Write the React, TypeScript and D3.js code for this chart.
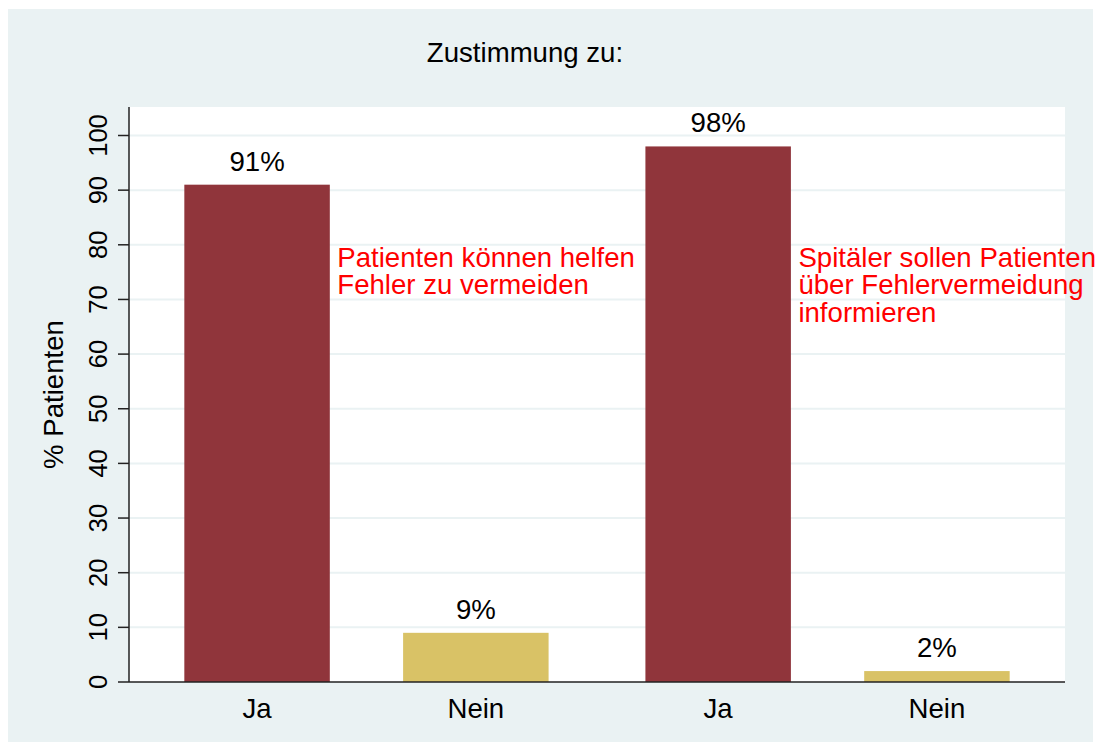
import { useEffect, useRef } from "react";
import * as d3 from "d3";

const title = "Zustimmung zu:";
const yTitle = "% Patienten";
const groups = ["helfen", "informieren"];
const answers = ["Ja", "Nein"];
const jaValues = [91, 98];
const neinValues = [9, 2];
const annotations = [
  ["Patienten können helfen", "Fehler zu vermeiden"],
  ["Spitäler sollen Patienten", "über Fehlervermeidung", "informieren"],
];
const yTicks = [0, 10, 20, 30, 40, 50, 60, 70, 80, 90, 100];

const colors: Record<string, string> = { Ja: "#90353b", Nein: "#d9c266" };

export default function App() {
  const svgRef = useRef<SVGSVGElement>(null);

  useEffect(() => {
    const width = 1100;
    const height = 742;
    const plot = { left: 129, right: 1065, top: 107, bottom: 682 };
    const font = "'Liberation Sans', Arial, Helvetica, sans-serif";
    const fs = 27.6;

    const svg = d3.select(svgRef.current);
    svg.selectAll("*").remove();
    svg.attr("width", width).attr("height", height);

    // outer background
    svg
      .append("rect")
      .attr("x", 8)
      .attr("y", 9)
      .attr("width", 1085)
      .attr("height", height - 9)
      .attr("fill", "#eaf2f3");

    // plot region
    svg
      .append("rect")
      .attr("x", plot.left)
      .attr("y", plot.top)
      .attr("width", plot.right - plot.left)
      .attr("height", plot.bottom - plot.top)
      .attr("fill", "#ffffff");

    const yScale = d3.scaleLinear().domain([0, 100]).range([plot.bottom, 135.5]);

    const xOuter = d3
      .scaleBand()
      .domain(groups)
      .range([plot.left, plot.right])
      .paddingInner(0.21)
      .paddingOuter(0.12);

    const xInner = d3
      .scaleBand()
      .domain(answers)
      .range([0, xOuter.bandwidth()])
      .paddingInner(0.335)
      .paddingOuter(0);

    // gridlines
    svg
      .append("g")
      .selectAll("line")
      .data(yTicks.filter(t => t > 0))
      .enter()
      .append("line")
      .attr("x1", plot.left)
      .attr("x2", plot.right)
      .attr("y1", d => yScale(d))
      .attr("y2", d => yScale(d))
      .attr("stroke", "#eaf2f3")
      .attr("stroke-width", 2);

    const rows = groups.flatMap((g, i) => [
      { group: g, answer: "Ja", value: jaValues[i] },
      { group: g, answer: "Nein", value: neinValues[i] },
    ]);

    const barX = (d: { group: string; answer: string }) =>
      (xOuter(d.group) as number) + (xInner(d.answer) as number);

    // bars
    svg
      .append("g")
      .selectAll("rect")
      .data(rows)
      .enter()
      .append("rect")
      .attr("x", d => barX(d))
      .attr("y", d => yScale(d.value))
      .attr("width", xInner.bandwidth())
      .attr("height", d => yScale(0) - yScale(d.value))
      .attr("fill", d => colors[d.answer]);

    // value labels
    svg
      .append("g")
      .selectAll("text")
      .data(rows)
      .enter()
      .append("text")
      .attr("x", d => barX(d) + xInner.bandwidth() / 2)
      .attr("y", d => yScale(d.value) - 14)
      .attr("text-anchor", "middle")
      .attr("font-family", font)
      .attr("font-size", fs)
      .attr("fill", "#000")
      .text(d => `${d.value}%`);

    // x category labels
    svg
      .append("g")
      .selectAll("text")
      .data(rows)
      .enter()
      .append("text")
      .attr("x", d => barX(d) + xInner.bandwidth() / 2)
      .attr("y", 718)
      .attr("text-anchor", "middle")
      .attr("font-family", font)
      .attr("font-size", fs)
      .attr("fill", "#000")
      .text(d => d.answer);

    // red annotations
    annotations.forEach((lines, i) => {
      const x = (xOuter(groups[i]) as number) + (xInner("Ja") as number) + xInner.bandwidth() + 7.5;
      const t = svg
        .append("text")
        .attr("x", x)
        .attr("y", yScale(76))
        .attr("font-family", font)
        .attr("font-size", fs)
        .attr("fill", "#ff0000");
      lines.forEach((line, j) => {
        t.append("tspan")
          .attr("x", x)
          .attr("dy", j === 0 ? 0 : 27.5)
          .text(line);
      });
    });

    // y axis
    svg
      .append("line")
      .attr("x1", plot.left)
      .attr("x2", plot.left)
      .attr("y1", plot.top)
      .attr("y2", plot.bottom)
      .attr("stroke", "#222")
      .attr("stroke-width", 1.5);

    const ticks = svg.append("g");
    ticks
      .selectAll("line")
      .data(yTicks)
      .enter()
      .append("line")
      .attr("x1", plot.left - 11)
      .attr("x2", plot.left)
      .attr("y1", d => yScale(d))
      .attr("y2", d => yScale(d))
      .attr("stroke", "#222")
      .attr("stroke-width", 1.5);

    ticks
      .selectAll("text")
      .data(yTicks)
      .enter()
      .append("text")
      .attr("transform", d => `translate(107, ${yScale(d)}) rotate(-90)`)
      .attr("text-anchor", "middle")
      .attr("font-family", font)
      .attr("font-size", 25.5)
      .attr("fill", "#000")
      .text(d => d);

    // x axis line
    svg
      .append("line")
      .attr("x1", plot.left)
      .attr("x2", plot.right)
      .attr("y1", plot.bottom)
      .attr("y2", plot.bottom)
      .attr("stroke", "#222")
      .attr("stroke-width", 1.5);

    // titles
    svg
      .append("text")
      .attr("transform", `translate(63, ${(plot.top + plot.bottom) / 2}) rotate(-90)`)
      .attr("text-anchor", "middle")
      .attr("font-family", font)
      .attr("font-size", fs)
      .attr("fill", "#000")
      .text(yTitle);

    svg
      .append("text")
      .attr("x", 525)
      .attr("y", 61.5)
      .attr("text-anchor", "middle")
      .attr("font-family", font)
      .attr("font-size", fs)
      .attr("fill", "#000")
      .text(title);
  }, []);

  return (
    <svg
      ref={svgRef}
      style={{ position: "absolute", left: 0, top: 0, display: "block" }}
    ></svg>
  );
}
